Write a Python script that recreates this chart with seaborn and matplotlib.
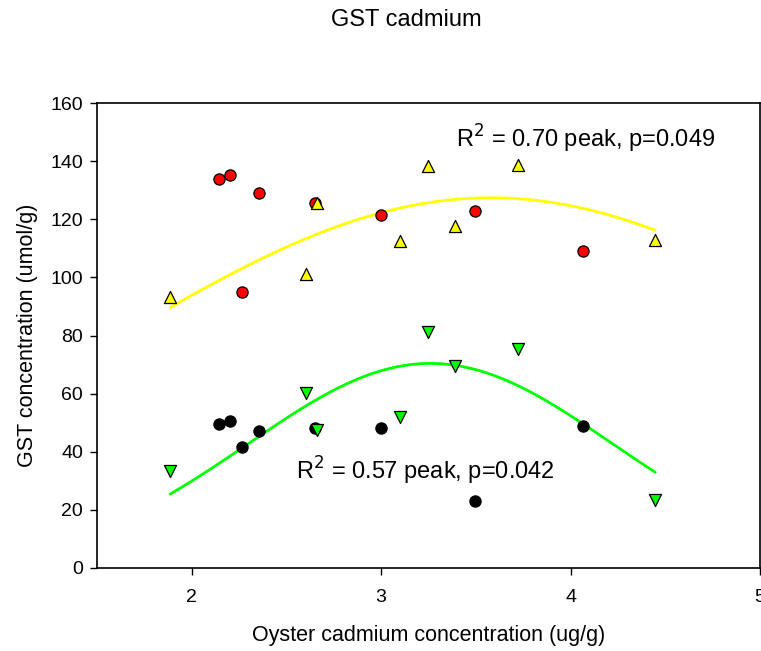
import numpy as np
import pandas as pd
import matplotlib
matplotlib.use("Agg")
import matplotlib.pyplot as plt
import seaborn as sns

# Oyster cadmium (ug/g) and GST concentration (umol/g) per group
x_circles = [2.146, 2.20, 2.353, 2.649, 3.00, 2.263, 3.498, 4.065]
red_gst = [133.8, 135.1, 129.1, 125.7, 121.6, 95.1, 123.0, 109.1]
black_gst = [49.4, 50.5, 47.1, 48.3, 48.2, 41.5, 23.1, 48.9]

x_triangles = [1.886, 2.604, 2.661, 3.10, 3.246, 3.391, 3.721, 4.447]
yellow_gst = [93.4, 101.1, 125.7, 112.6, 138.3, 117.7, 138.8, 112.8]
green_gst = [33.5, 60.3, 47.5, 52.1, 81.1, 69.6, 75.3, 23.4]

# Gaussian peak fits: amplitude, centre, width
yellow_fit = (127.4, 3.58, 2.02)
green_fit = (70.4, 3.26, 0.963)

xticks = [2, 3, 4, 5]
yticks = [0, 20, 40, 60, 80, 100, 120, 140, 160]


def peak(x, a, x0, b):
    return a * np.exp(-0.5 * ((x - x0) / b) ** 2)


sns.set_style("ticks")
plt.rcParams["font.family"] = ["Liberation Sans", "DejaVu Sans"]
plt.rcParams["text.color"] = "black"
plt.rcParams["axes.labelcolor"] = "black"

fig = plt.figure(figsize=(7.61, 6.51), dpi=100)
ax = fig.add_axes([97 / 761, 83 / 651, 663 / 761, 465 / 651])

xs = np.linspace(min(x_triangles), max(x_triangles), 200)
curves = pd.DataFrame({
    "x": np.concatenate([xs, xs]),
    "y": np.concatenate([peak(xs, *yellow_fit), peak(xs, *green_fit)]),
    "fit": ["yellow"] * len(xs) + ["green"] * len(xs),
})
sns.lineplot(data=curves, x="x", y="y", hue="fit",
             palette={"yellow": "#ffff00", "green": "#00ff00"},
             linewidth=2.0, legend=False, ax=ax, zorder=2)

common = dict(edgecolor="black", linewidth=0.9, legend=False, ax=ax, zorder=3)
sns.scatterplot(x=x_circles, y=red_gst, marker="o", s=65, color="#ff0000", **common)
sns.scatterplot(x=x_circles, y=black_gst, marker="o", s=65, color="black", **common)
sns.scatterplot(x=x_triangles, y=yellow_gst, marker="^", s=75, color="#ffff00", **common)
sns.scatterplot(x=x_triangles, y=green_gst, marker="v", s=75, color="#00ff00", **common)

ax.set_xlim(1.5, 5)
ax.set_ylim(0, 160)
ax.set_xticks(xticks)
ax.set_yticks(yticks)
ax.tick_params(axis="both", direction="out", length=5, width=1, labelsize=14,
               color="black", labelcolor="black")
ax.tick_params(axis="x", pad=10)
ax.tick_params(axis="y", pad=5)
for sp in ax.spines.values():
    sp.set_color("black")
    sp.set_linewidth(1.2)
    sp.set_visible(True)

ax.set_xlabel("Oyster cadmium concentration (ug/g)", fontsize=15.5, labelpad=14)
ax.set_ylabel("GST concentration (umol/g)", fontsize=15.5, labelpad=9)

ax.text(3.393, 147.5, r"R$^2$ = 0.70 peak, p=0.049", fontsize=17, va="center", ha="left")
ax.text(2.55, 33.5, r"R$^2$ = 0.57 peak, p=0.042", fontsize=17, va="center", ha="left")

fig.text(406 / 761, 1 - 20 / 651, "GST cadmium", fontsize=17, ha="center", va="center")

fig.savefig("out.png", dpi=100)
